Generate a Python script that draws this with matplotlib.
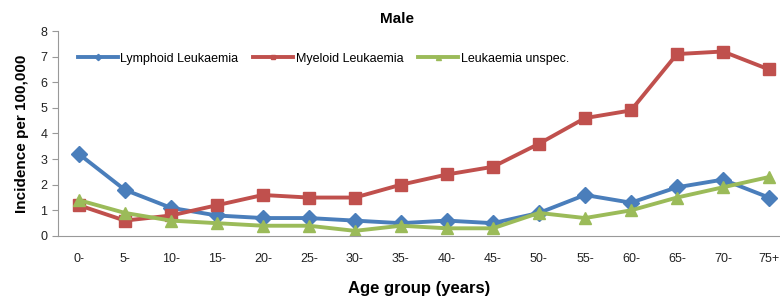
import numpy as np
import matplotlib.pyplot as plt

ages = ['0-', '5-', '10-', '15-', '20-', '25-', '30-', '35-', '40-', '45-',
        '50-', '55-', '60-', '65-', '70-', '75+']
lymphoid = [3.2, 1.8, 1.1, 0.8, 0.7, 0.7, 0.6, 0.5, 0.6, 0.5, 0.9, 1.6, 1.3, 1.9, 2.2, 1.5]
myeloid = [1.2, 0.6, 0.8, 1.2, 1.6, 1.5, 1.5, 2.0, 2.4, 2.7, 3.6, 4.6, 4.9, 7.1, 7.2, 6.5]
unspec = [1.4, 0.9, 0.6, 0.5, 0.4, 0.4, 0.2, 0.4, 0.3, 0.3, 0.9, 0.7, 1.0, 1.5, 1.9, 2.3]

plt.rcParams['font.family'] = ['Liberation Sans', 'DejaVu Sans']

fig = plt.figure(figsize=(7.8, 3.01), dpi=100)
ax = fig.add_axes([0.074, 0.216, 0.926, 0.681])

x = np.arange(len(ages))
ax.plot(x, lymphoid, color='#4A7EBB', lw=2.8, marker='D', ms=8, label='Lymphoid Leukaemia')
ax.plot(x, myeloid, color='#C0504D', lw=2.8, marker='s', ms=8, label='Myeloid Leukaemia')
ax.plot(x, unspec, color='#9BBB59', lw=2.8, marker='^', ms=9, label='Leukaemia unspec.')

ax.set_xlim(-0.46, 15.24)
ax.set_ylim(0, 8)
ax.set_yticks(range(0, 9))
ax.set_xticks(x)
ax.set_xticklabels(ages)
ax.tick_params(axis='x', length=0, pad=12, labelsize=9, colors='#222222')
ax.tick_params(axis='y', length=4, width=0.8, color='#999999', labelsize=9, labelcolor='#222222')

for s in ['top', 'right']:
    ax.spines[s].set_visible(False)
for s in ['left', 'bottom']:
    ax.spines[s].set_color('#999999')
    ax.spines[s].set_linewidth(0.8)

ax.set_title('Male', fontsize=11, fontweight='bold', pad=6, x=0.47)
ax.set_ylabel('Incidence per 100,000', fontsize=11, fontweight='bold', labelpad=8)
ax.set_xlabel('Age group (years)', fontsize=12, fontweight='bold', labelpad=12)

ax.legend(loc='upper left', bbox_to_anchor=(0.012, 0.95), ncol=3, frameon=False,
          fontsize=9, handlelength=3.2, columnspacing=1.2, handletextpad=0.2,
          markerscale=0.4)

fig.savefig('out.png', dpi=100)
